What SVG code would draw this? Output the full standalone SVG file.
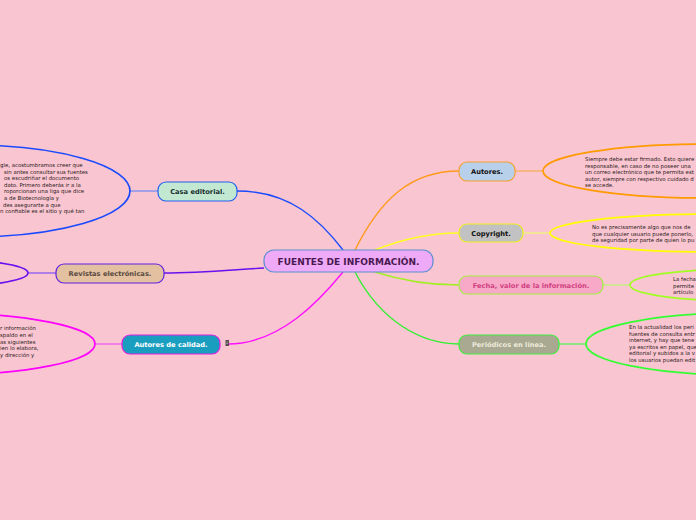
<svg xmlns="http://www.w3.org/2000/svg" width="696" height="520" viewBox="0 0 696 520">
<style>
.node text{font-family:"DejaVu Sans",Verdana,sans-serif;font-weight:bold;font-size:6.7px;text-anchor:middle}
.body{font-family:"DejaVu Sans",Verdana,sans-serif;font-size:5.4px;fill:#2a2020}
.conn path{fill:none;stroke-width:1.4}
.ell{fill:none;stroke-width:1.7}
</style>
<rect width="696" height="520" fill="#f9c5d0"/>
<g id="connectors" class="conn">
<path d="M355,250 C380,200 410,171 459,171" stroke="#ff9a1a"/>
<path d="M375,250 C400,240 430,233 459,233" stroke="#ffff20"/>
<path d="M375,272 C400,280 430,285 459,285" stroke="#a0f020"/>
<path d="M355,272 C380,320 420,344 459,344" stroke="#30f030"/>
<path d="M343,250 C320,220 290,191 237,191" stroke="#1a4aff"/>
<path d="M264,268 C230,270 200,273 164,273" stroke="#6a10f0"/>
<path d="M343,272 C320,300 280,344 228,344" stroke="#ff10ff"/>
<path d="M515,171 H543" stroke="#f5b060"/>
<path d="M523,233 H550" stroke="#f0f080"/>
<path d="M603,285 H630" stroke="#c0f080"/>
<path d="M559,344 H586" stroke="#60f060"/>
<path d="M158,191 H130" stroke="#8090f0"/>
<path d="M56,273 H28" stroke="#9060f0"/>
<path d="M122,344 H95" stroke="#f060f0"/>
</g>
<g id="center" class="node">
<rect x="264" y="250" width="169" height="22" rx="10" fill="#eeaaf6" stroke="#5b8fd0" stroke-width="1.2"/>
<text x="348.5" y="264.5" style="font-size:9px" fill="#4a1850">FUENTES DE INFORMACIÓN.</text>
</g>
<g id="autores" class="node">
<rect x="459" y="162" width="56" height="19" rx="8" fill="#b9d0ea" stroke="#f5a030" stroke-width="1.2"/>
<text x="487" y="174.3" fill="#111">Autores.</text>
</g>
<g id="autores-nota">
<ellipse class="ell" cx="705" cy="171" rx="162" ry="27" stroke="#ff9a00"/>
<text class="body"><tspan x="585" y="161">Siempre debe estar firmado. Esto quiere</tspan><tspan x="585" y="167.5">responsable, en caso de no poseer una</tspan><tspan x="585" y="174">un correo electrónico que te permita est</tspan><tspan x="585" y="180.5">autor, siempre con respectivo cuidado d</tspan><tspan x="585" y="187">se accede.</tspan></text>
</g>
<g id="copyright" class="node">
<rect x="459" y="224" width="64" height="18" rx="8" fill="#c2c2c2" stroke="#f0f020" stroke-width="1.2"/>
<text x="491" y="235.5" fill="#111">Copyright.</text>
</g>
<g id="copyright-nota">
<ellipse class="ell" cx="710" cy="233" rx="160" ry="19" stroke="#ffff00"/>
<text class="body"><tspan x="592" y="229">No es precisamente algo que nos de</tspan><tspan x="592" y="235.5">que cualquier usuario puede ponerlo,</tspan><tspan x="592" y="242">de seguridad por parte de quien lo pu</tspan></text>
</g>
<g id="fecha" class="node">
<rect x="459" y="276" width="144" height="18" rx="8" fill="#f9a9c8" stroke="#a0f040" stroke-width="1.2"/>
<text x="531" y="287.5" fill="#d04080">Fecha, valor de la información.</text>
</g>
<g id="fecha-nota">
<ellipse class="ell" cx="740" cy="285" rx="110" ry="16" stroke="#a0ff20"/>
<text class="body"><tspan x="673" y="281">La fecha</tspan><tspan x="673" y="287.5">permite</tspan><tspan x="673" y="294">artículo</tspan></text>
</g>
<g id="periodicos" class="node">
<rect x="459" y="335" width="100" height="19" rx="8" fill="#a9a890" stroke="#40f040" stroke-width="1.2"/>
<text x="509" y="347" fill="#ecebdc">Periódicos en línea.</text>
</g>
<g id="periodicos-nota">
<ellipse class="ell" cx="740" cy="344" rx="154" ry="31" stroke="#33ff33"/>
<text class="body"><tspan x="629" y="329">En la actualidad los peri</tspan><tspan x="629" y="335.5">fuentes de consulta entr</tspan><tspan x="629" y="342">internet, y hay que tene</tspan><tspan x="629" y="348.5">ya escritos en papel, que</tspan><tspan x="629" y="355">editorial y subidos a la v</tspan><tspan x="629" y="361.5">los usuarios puedan edit</tspan></text>
</g>
<g id="casa" class="node">
<rect x="158" y="182" width="79" height="19" rx="8" fill="#c2e8d2" stroke="#2060f0" stroke-width="1.2"/>
<text x="197.5" y="194" fill="#1a3030">Casa editorial.</text>
</g>
<g id="casa-nota">
<ellipse class="ell" cx="-30" cy="191" rx="160" ry="46" stroke="#1a4aff"/>
<text class="body"><tspan x="0" y="167">gle, acostumbramos creer que</tspan><tspan x="4" y="173.6">sin antes consultar sus fuentes</tspan><tspan x="4" y="180.2">os escudriñar el documento</tspan><tspan x="4" y="186.8">dato. Primero deberás ir a la</tspan><tspan x="4" y="193.4">roporcionan una liga que dice</tspan><tspan x="4" y="200">a de Biotecnología y</tspan><tspan x="3" y="206.6">des asegurarte a que</tspan><tspan x="0" y="213.2">n confiable es el sitio y qué tan</tspan></text>
</g>
<g id="revistas" class="node">
<rect x="56" y="264" width="108" height="19" rx="8" fill="#e2c0a0" stroke="#6020e0" stroke-width="1.2"/>
<text x="110" y="276" fill="#5a4a40">Revistas electrónicas.</text>
</g>
<g id="revistas-nota">
<ellipse class="ell" cx="-80" cy="273" rx="108" ry="15" stroke="#6a10f0"/>
</g>
<g id="calidad" class="node">
<rect x="122" y="335" width="98" height="19" rx="8" fill="#1a9ec0" stroke="#e020e0" stroke-width="1.2"/>
<text x="171" y="347" fill="#ffffff">Autores de calidad.</text>
<rect x="225.5" y="340" width="3.5" height="6" fill="#5a4a50"/>
<path d="M226.2,342 h2.1 M226.2,343.5 h2.1" stroke="#ccc" stroke-width="0.5"/>
</g>
<g id="calidad-nota">
<ellipse class="ell" cx="-60" cy="344" rx="155" ry="31" stroke="#ff00ff"/>
<text class="body"><tspan x="0" y="330">r información</tspan><tspan x="0" y="337">spaldo en el</tspan><tspan x="0" y="343.5">as siguientes</tspan><tspan x="0" y="350">ien lo elabora,</tspan><tspan x="0" y="356.5">y dirección y</tspan></text>
</g>
</svg>
